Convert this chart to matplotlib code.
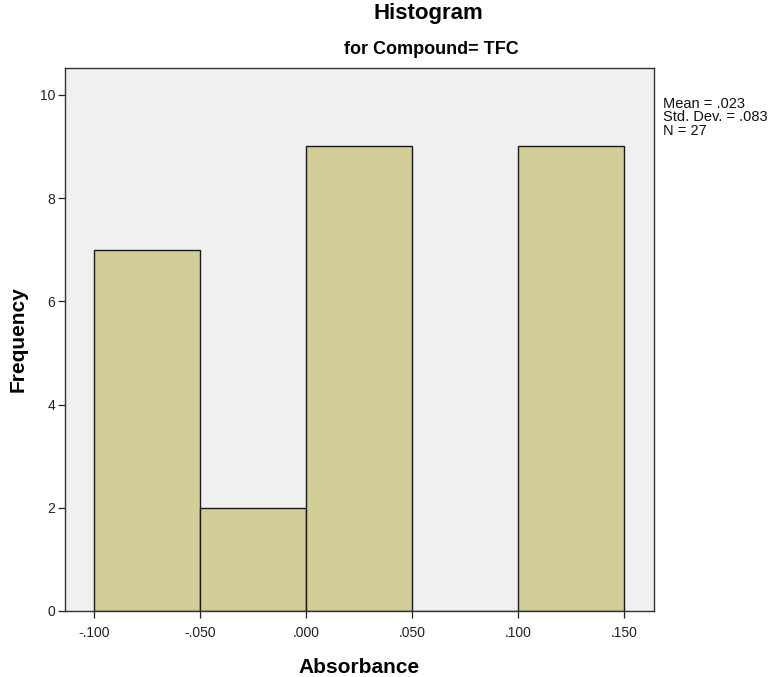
import matplotlib
matplotlib.use("Agg")
import matplotlib.pyplot as plt

# Histogram bins (Absorbance) and their frequencies
bin_edges = [-0.100, -0.050, 0.000, 0.050, 0.100, 0.150]
frequencies = [7, 2, 9, 0, 9]
x_ticks = [-0.100, -0.050, 0.000, 0.050, 0.100, 0.150]
x_tick_labels = ["-.100", "-.050", ".000", ".050", ".100", ".150"]
y_ticks = [0, 2, 4, 6, 8, 10]
stats_lines = ["Mean = .023", "Std. Dev. = .083", "N = 27"]

plt.rcParams["font.family"] = ["Liberation Sans", "DejaVu Sans"]

fig = plt.figure(figsize=(7.71, 6.77), dpi=100)
ax = fig.add_axes([0.0843, 0.0975, 0.7637, 0.8021])
ax.set_facecolor("#F0F0F0")

lefts = bin_edges[:-1]
widths = [bin_edges[i + 1] - bin_edges[i] for i in range(len(lefts))]
ax.bar(lefts, frequencies, width=widths, align="edge",
       color="#D3CE97", edgecolor="#1a1a1a", linewidth=1.0, zorder=2)

ax.set_xlim(-0.1137, 0.1642)
ax.set_ylim(0, 10.52)
ax.set_xticks(x_ticks)
ax.set_xticklabels(x_tick_labels)
ax.set_yticks(y_ticks)
ax.tick_params(direction="out", length=5, width=0.9, labelsize=10, colors="#222222")
ax.tick_params(axis="x", pad=6)
ax.tick_params(axis="y", pad=2)
for s in ax.spines.values():
    s.set_color("#333333")
    s.set_linewidth(1.0)

ax.set_xlabel("Absorbance", fontsize=15, fontweight="bold", labelpad=13)
ax.set_ylabel("Frequency", fontsize=15, fontweight="bold", labelpad=9)

fig.text(0.556, 0.980, "Histogram", ha="center", va="center",
         fontsize=16, fontweight="bold")
fig.text(0.559, 0.927, "for Compound= TFC", ha="center", va="center",
         fontsize=13, fontweight="bold")

fig.text(0.860, 0.827, "\n".join(stats_lines), ha="left", va="center",
         fontsize=10.5, linespacing=0.95, color="#111111")

fig.savefig("out.png", dpi=100)
